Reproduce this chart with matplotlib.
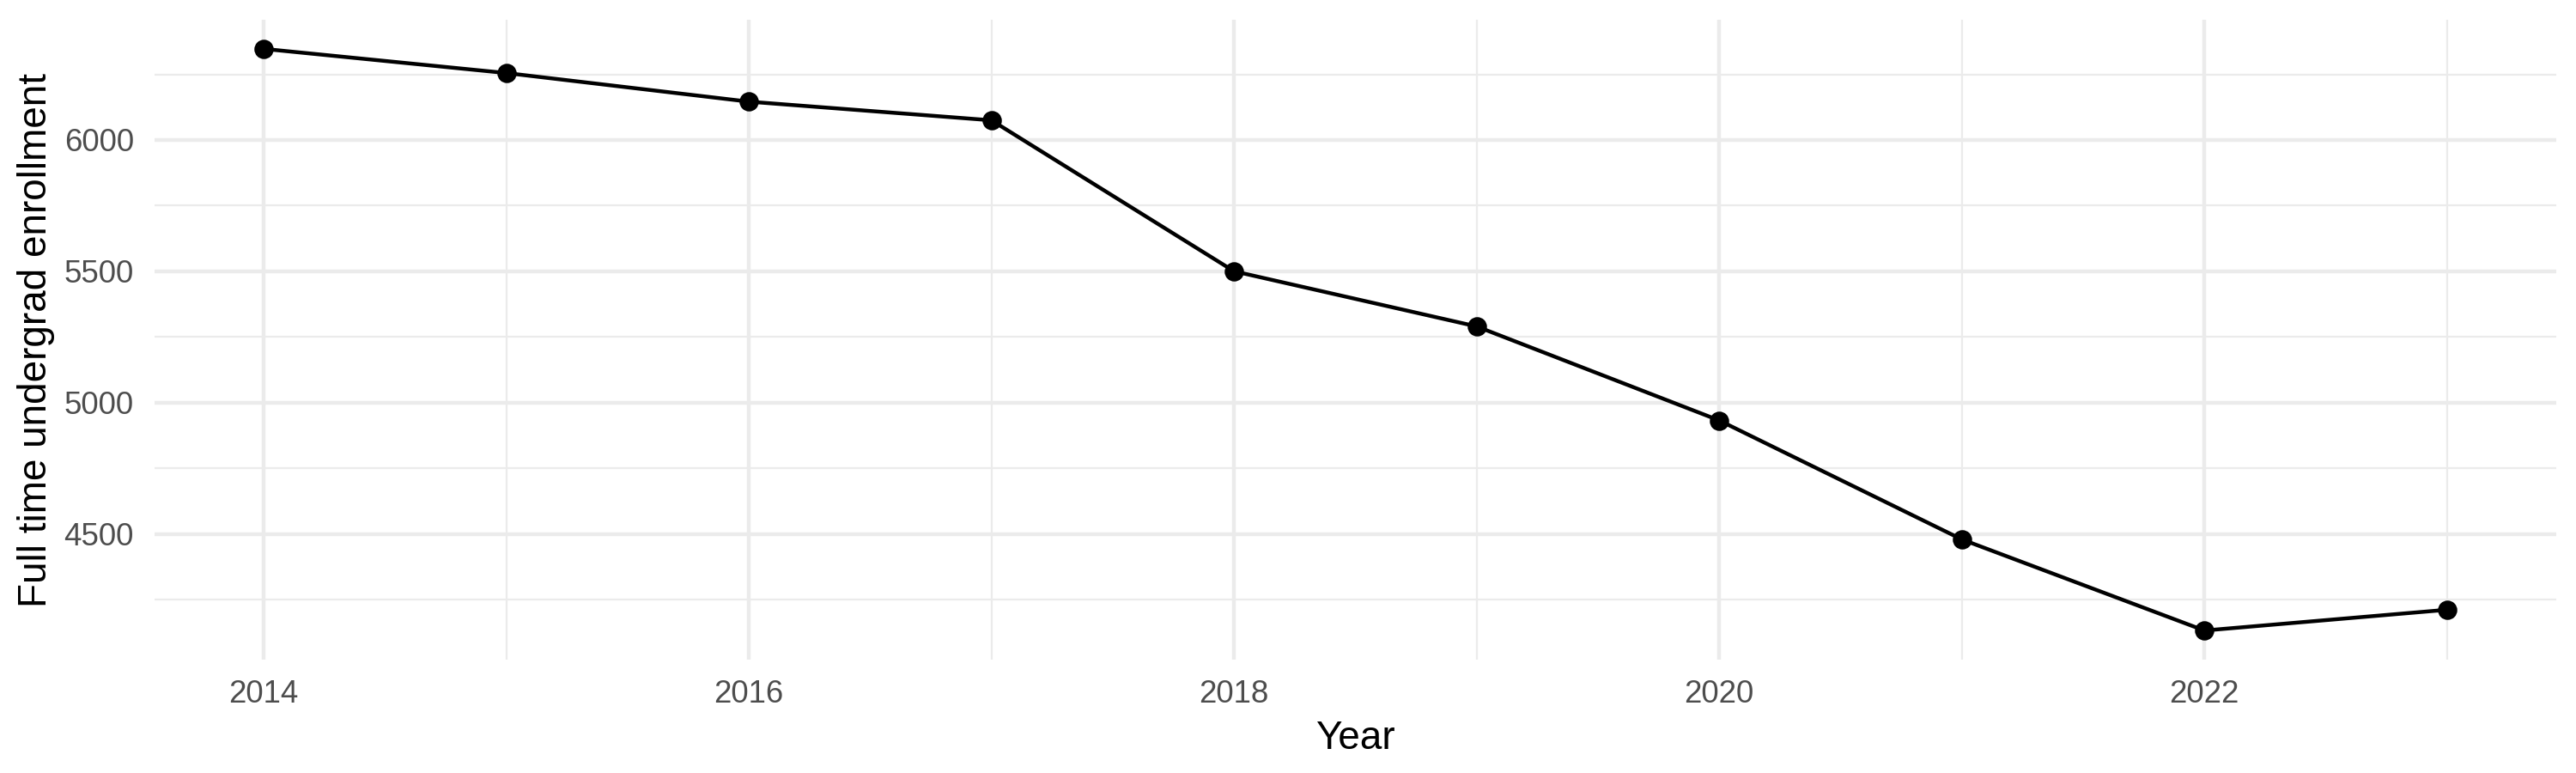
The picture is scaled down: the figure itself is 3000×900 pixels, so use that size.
import numpy as np
import matplotlib
matplotlib.use('Agg')
import matplotlib.pyplot as plt
from matplotlib.ticker import MultipleLocator

years = [2014, 2015, 2016, 2017, 2018, 2019, 2020, 2021, 2022, 2023]
enrollment = [6347, 6255, 6146, 6075, 5500, 5290, 4932, 4479, 4132, 4211]

plt.rcParams['font.family'] = ['Liberation Sans', 'DejaVu Sans']

fig = plt.figure(figsize=(10, 3), dpi=300)
ax = fig.add_axes([0.06, 0.1467, 0.9923 - 0.06, 0.9744 - 0.1467])

# ggplot-like expansion of 5% on both axes
xr = max(years) - min(years)
ax.set_xlim(min(years) - 0.05 * xr, max(years) + 0.05 * xr)
yr = max(enrollment) - min(enrollment)
ax.set_ylim(min(enrollment) - 0.05 * yr, max(enrollment) + 0.05 * yr)

ax.xaxis.set_major_locator(MultipleLocator(2))
ax.xaxis.set_minor_locator(MultipleLocator(1))
ax.yaxis.set_major_locator(MultipleLocator(500))
ax.yaxis.set_minor_locator(MultipleLocator(250))

ax.grid(which='major', color='#EBEBEB', linewidth=1.07)
ax.grid(which='minor', color='#EBEBEB', linewidth=0.53)
ax.set_axisbelow(True)
for s in ax.spines.values():
    s.set_visible(False)
ax.tick_params(which='both', length=0)
ax.tick_params(axis='x', labelsize=8.8, labelcolor='#4D4D4D', pad=5.5)
ax.tick_params(axis='y', labelsize=8.8, labelcolor='#4D4D4D', pad=5.8)

ax.plot(years, enrollment, color='black', linewidth=1.07, zorder=3)
ax.plot(years, enrollment, 'o', color='black', markersize=4.4, zorder=4)

ax.set_xlabel('Year', fontsize=11, color='black', labelpad=3)
ax.set_ylabel('Full time undergrad enrollment', fontsize=11, color='black', labelpad=2.5)

fig.savefig('out.png', dpi=300, facecolor='white')
